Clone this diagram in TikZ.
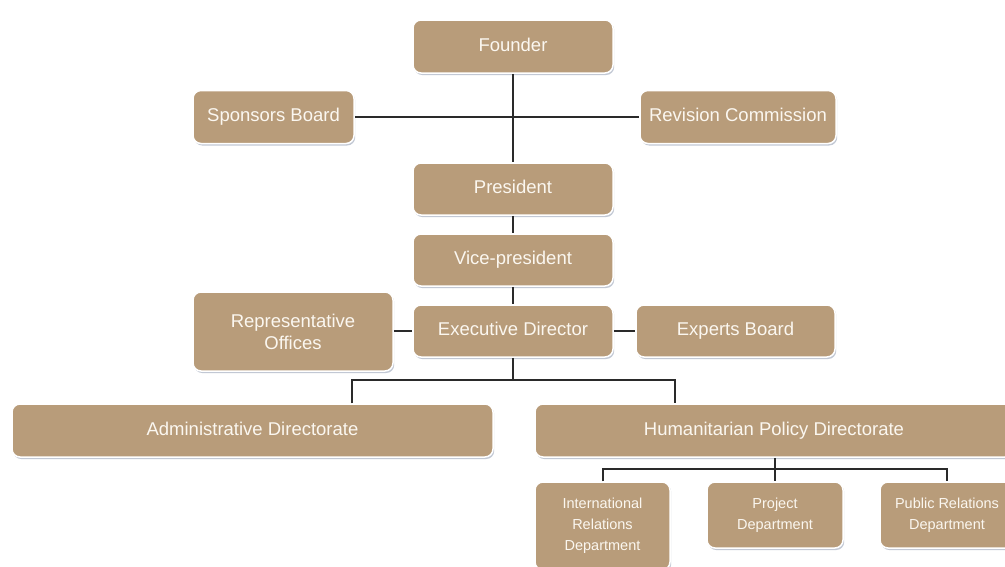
\documentclass[tikz,border=0pt]{standalone}
\usepackage{fontspec}
\setmainfont{Liberation Sans}
\usetikzlibrary{shadows}
\definecolor{boxfill}{HTML}{B89C7A}
\definecolor{boxtext}{HTML}{FBF7F0}
\definecolor{linecol}{HTML}{2A2A2A}
\definecolor{shadowcol}{HTML}{A9B2C2}
\tikzset{
  orgbox/.style={draw=white, line width=1.5pt, fill=boxfill, rounded corners=8pt,
    text=boxtext, align=center, inner sep=0pt, font=\fontsize{18.5}{22}\selectfont,
    drop shadow={shadow xshift=1.2pt, shadow yshift=-2pt, fill=shadowcol, opacity=0.7}},
  oneline/.style={text height=13.5pt, text depth=4pt},
  smallbox/.style={orgbox, font=\fontsize{14.5}{21}\selectfont},
  link/.style={draw=linecol, line width=1.4pt}
}
\begin{document}
\begin{tikzpicture}[x=1pt,y=-1pt]
\clip (0,0) rectangle (1005,566);
\fill[white] (0,0) rectangle (1005,566);
\node[orgbox, oneline, minimum width=200pt, minimum height=53pt] (founder) at (513,46.5) {Founder};
\node[orgbox, oneline, minimum width=161pt, minimum height=53pt] (sponsors) at (273.5,117) {Sponsors Board};
\node[orgbox, oneline, minimum width=196pt, minimum height=53pt] (revision) at (738,117) {Revision Commission};
\node[orgbox, oneline, minimum width=200pt, minimum height=52pt] (president) at (513,189) {President};
\node[orgbox, oneline, minimum width=200pt, minimum height=52pt] (vice) at (513,260) {Vice-president};
\node[orgbox, minimum width=200pt, minimum height=79pt] (rep) at (293,331.5) {Representative\\Offices};
\node[orgbox, oneline, minimum width=200pt, minimum height=52pt] (exec) at (513,331) {Executive Director};
\node[orgbox, oneline, minimum width=199pt, minimum height=52pt] (experts) at (735.5,331) {Experts Board};
\node[orgbox, oneline, minimum width=481pt, minimum height=53pt] (admin) at (252.5,430.5) {Administrative Directorate};
\node[orgbox, oneline, minimum width=478pt, minimum height=53pt] (human) at (774,430.5) {Humanitarian Policy Directorate};
\node[smallbox, minimum width=135pt, minimum height=88pt] (intl) at (602.5,526) {International\\Relations\\Department};
\node[smallbox, minimum width=136pt, minimum height=66pt] (project) at (775,515) {Project\\Department};
\node[smallbox, minimum width=134pt, minimum height=66pt] (public) at (947,515) {Public Relations\\Department};
\coordinate (j2) at (513,380);
\coordinate (j3) at (775,469);
\draw[link] (founder.south) -- (president.north);
\draw[link] (sponsors.east) -- (revision.west);
\draw[link] (president.south) -- (vice.north);
\draw[link] (vice.south) -- (exec.north);
\draw[link] (rep.east |- exec.west) -- (exec.west);
\draw[link] (exec.east) -- (experts.west);
\draw[link] (exec.south) -- (j2);
\draw[link] (admin.north -| 352,0) -- (352,380) -- (675,380) -- (human.north -| 675,0);
\draw[link] (human.south -| j3) -- (j3);
\draw[link] (intl.north -| 603,0) -- (603,469) -- (947,469) -- (public.north);
\draw[link] (j3) -- (project.north);
\end{tikzpicture}
\end{document}
